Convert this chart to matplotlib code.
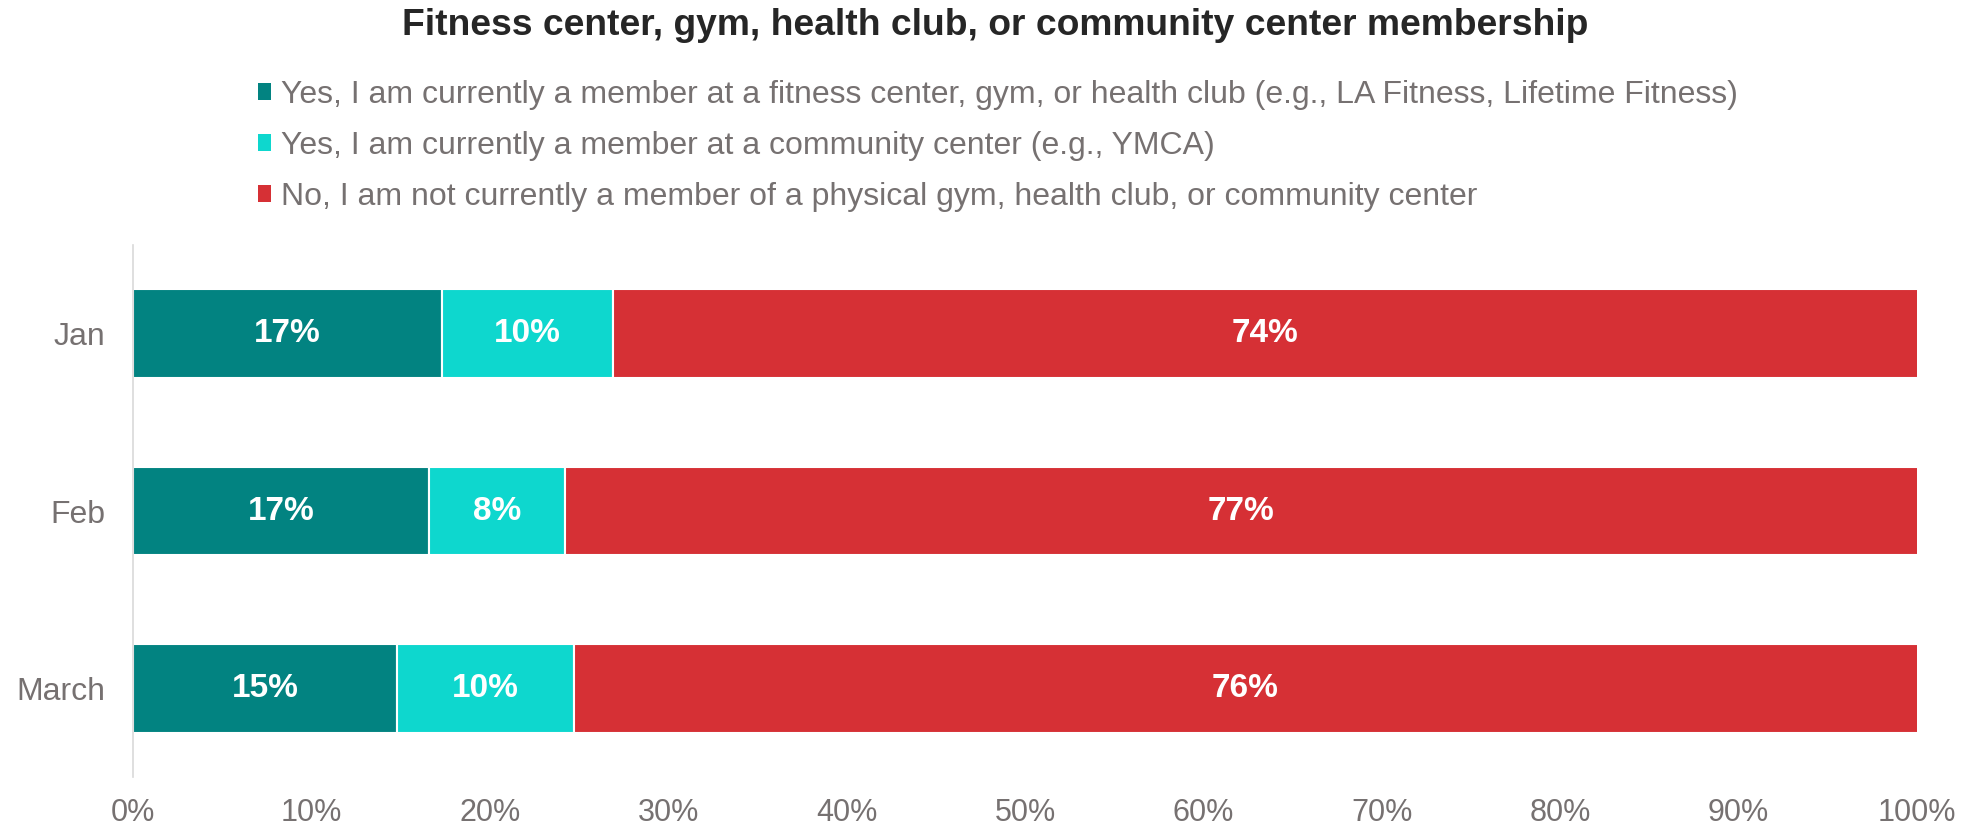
import matplotlib
matplotlib.use("Agg")
import matplotlib.pyplot as plt
from matplotlib.patches import Patch

plt.rcParams['font.family'] = ['Liberation Sans', 'DejaVu Sans']

# Survey months and the share of respondents in each membership group (%)
months = ["Jan", "Feb", "March"]
gym_member = [17.3, 16.6, 14.8]
community_member = [9.6, 7.6, 9.9]
not_member = [73.6, 76.6, 75.6]

series_labels = [
    "Yes, I am currently a member at a fitness center, gym, or health club (e.g., LA Fitness, Lifetime Fitness)",
    "Yes, I am currently a member at a community center (e.g., YMCA)",
    "No, I am not currently a member of a physical gym, health club, or community center",
]
series_colors = ["#028381", "#0ED7CE", "#D63035"]
x_ticks = [0, 10, 20, 30, 40, 50, 60, 70, 80, 90, 100]
x_tick_labels = [f"{t}%" for t in x_ticks]

title = "Fitness center, gym, health club, or community center membership"

text_gray = "#767171"

fig = plt.figure(figsize=(19.74, 8.33), dpi=100)
ax = fig.add_axes([0.0674, 0.0672, 0.9037, 0.6387])

series = [gym_member, community_member, not_member]
lefts = [0.0] * len(months)
for values, color in zip(series, series_colors):
    bars = ax.barh(months, values, left=lefts, height=0.5, color=color,
                   edgecolor="white", linewidth=1.5)
    ax.bar_label(bars, labels=[f"{v:.0f}%" for v in values], label_type="center",
                 color="white", fontsize=24, fontweight="bold")
    lefts = [l + v for l, v in zip(lefts, values)]

ax.set_xlim(0, 100)
ax.set_ylim(2.5, -0.5)
ax.set_xticks(x_ticks)
ax.set_xticklabels(x_tick_labels)
ax.tick_params(axis="x", length=0, pad=15, labelsize=22, labelcolor=text_gray)
ax.tick_params(axis="y", length=0, pad=20, labelsize=23, labelcolor=text_gray)

for side in ["top", "right", "bottom"]:
    ax.spines[side].set_visible(False)
ax.spines["left"].set_color("#D9D9D9")
ax.spines["left"].set_linewidth(1.2)

fig.text(0.504, 0.969, title, ha="center", va="center", fontsize=26.8,
         fontweight="bold", color="#262626")

handles = [Patch(facecolor=c, edgecolor="none") for c in series_colors]
fig.legend(handles, series_labels, loc="upper left", bbox_to_anchor=(0.1307, 0.904),
           frameon=False, fontsize=23, labelcolor=text_gray, borderpad=0,
           borderaxespad=0, handlelength=0.42, handleheight=0.45,
           handletextpad=0.3, labelspacing=0.66)

fig.savefig("out.png", dpi=100)
